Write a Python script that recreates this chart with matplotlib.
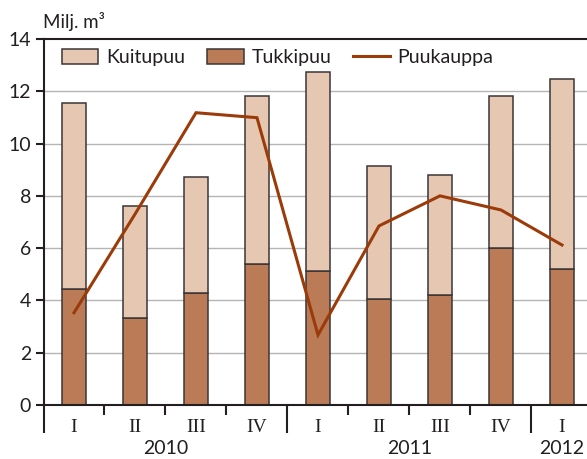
import matplotlib
matplotlib.use("Agg")
import matplotlib.pyplot as plt
from matplotlib.patches import Patch
from matplotlib.lines import Line2D
import matplotlib.transforms as mtransforms
import numpy as np

quarters = ["I", "II", "III", "IV", "I", "II", "III", "IV", "I"]
years = ["2010", "2011", "2012"]
year_centers = [1.5, 5.5, 8.0]
tukkipuu = [4.43, 3.32, 4.28, 5.41, 5.11, 4.06, 4.21, 6.02, 5.19]
total = [11.56, 7.61, 8.72, 11.83, 12.75, 9.14, 8.80, 11.83, 12.46]
kuitupuu = [t - b for t, b in zip(total, tukkipuu)]
puukauppa = [3.53, 7.3, 11.18, 10.99, 2.68, 6.85, 8.0, 7.46, 6.12]

light = "#E6C8B2"
dark = "#BA7B56"
linec = "#9C3B0A"
edge = "#3B3535"
textc = "#231F20"

plt.rcParams['font.family'] = ['Lato', 'DejaVu Sans']

fig = plt.figure(figsize=(5.87, 4.59), dpi=100)
ax = fig.add_axes([43.5/587, 1 - 405/459, 1 - 43.5/587, (405 - 39)/459])

x = np.arange(len(quarters))
ax.bar(x, tukkipuu, width=0.4, color=dark, edgecolor=edge, linewidth=1.1, zorder=2)
ax.bar(x, kuitupuu, width=0.4, bottom=tukkipuu, color=light, edgecolor=edge, linewidth=1.1, zorder=2)
ax.plot(x, puukauppa, color=linec, linewidth=2.2, zorder=3, solid_joinstyle='miter')

ax.set_ylim(0, 14)
ax.set_xlim(-0.5, 8.41)
ax.set_yticks(range(0, 15, 2))
ax.set_yticklabels([str(v) for v in range(0, 15, 2)], fontsize=14, color=textc)
for v in range(2, 13, 2):
    ax.axhline(v, color="#B5B5B5", linewidth=1.0, zorder=1)

for s in ["right"]:
    ax.spines[s].set_visible(False)
for s in ["left", "bottom", "top"]:
    ax.spines[s].set_color(textc)
    ax.spines[s].set_linewidth(1.5)
ax.tick_params(axis='y', length=6, width=1.5, color=textc, pad=3)

ax.set_xticks([-0.5, 3.5, 7.5])
ax.set_xticklabels([])
ax.set_xticks([0.5, 1.5, 2.5, 4.5, 5.5, 6.5], minor=True)
ax.tick_params(axis='x', which='major', length=20, width=1.5, color=textc)
ax.tick_params(axis='x', which='minor', length=7, width=1.5, color=textc)

trans = mtransforms.blended_transform_factory(ax.transData, fig.transFigure)
for xi, q in zip(x, quarters):
    ax.text(xi, 1 - 427/459, q, transform=trans, ha='center', va='center',
            fontsize=14, family=['Liberation Serif'], color=textc)
for xc, yr in zip(year_centers, years):
    ax.text(xc, 1 - 449/459, yr, transform=trans, ha='center', va='center',
            fontsize=14, color=textc, clip_on=False)

fig.text(43/587, 1 - 28/459, "Milj. m³", fontsize=13.5, color=textc, ha='left', va='baseline')

handles = [Patch(facecolor=light, edgecolor=edge, linewidth=1.1, label="Kuitupuu"),
           Patch(facecolor=dark, edgecolor=edge, linewidth=1.1, label="Tukkipuu"),
           Line2D([], [], color=linec, linewidth=2.2, label="Puukauppa")]
leg = ax.legend(handles=handles, loc='upper left', bbox_to_anchor=(18/543.5, 1 - 10/366), ncol=3,
                frameon=False, fontsize=14, handlelength=1.9, handleheight=0.8,
                columnspacing=1.1, handletextpad=0.4, borderaxespad=0, borderpad=0)
for t in leg.get_texts():
    t.set_color(textc)

fig.savefig("out.png", dpi=100)
